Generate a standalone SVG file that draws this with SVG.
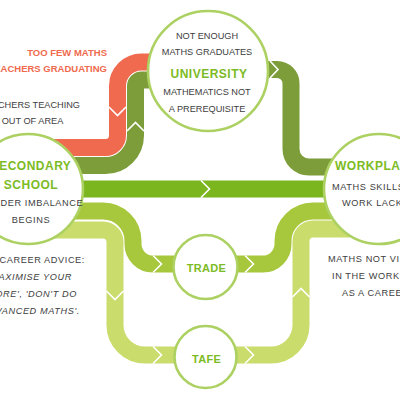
<svg xmlns="http://www.w3.org/2000/svg" width="400" height="400" viewBox="0 0 400 400">
<style>
.band{fill:none;stroke-width:17;stroke-linecap:butt}
.red{stroke:#ef6a4e}
.olive{stroke:#7c9d3a}
.bright{stroke:#7bb61f}
.mid{stroke:#a7c83d}
.light{stroke:#c9dc6c}
.chev{fill:none;stroke:#fff;stroke-width:1.6;stroke-linejoin:miter}
.node{fill:#fff;stroke:#acd162;stroke-width:2.6}
text{font-family:"Liberation Sans",Arial,sans-serif;font-size:9.2px;fill:#404040}
.h{font-weight:bold;fill:#7cbb24;font-size:12px;letter-spacing:0.5px}
.hs{font-weight:bold;fill:#7cbb24;font-size:11px;letter-spacing:0.3px}
.r{font-weight:bold;fill:#ef6a4e;font-size:9.5px}
.i{font-style:italic}
.w{letter-spacing:0.6px}
</style>
<rect width="400" height="400" fill="#fff"/>
<g id="connectors">
<path class="band bright" d="M40 189 H360"/>
<path class="band red" d="M40 147.5 H105.5 A12 12 0 0 0 117.5 135.5 V86 A24 24 0 0 1 141.5 62 H175"/>
<path class="band olive" d="M40 165.5 H105.5 A30 30 0 0 0 135.5 135.5 V86 A6 6 0 0 1 141.5 80 H175"/>
<path class="band olive" d="M245 69.5 H277 A14 14 0 0 1 291 83.5 V149 A18 18 0 0 0 309 167 H350"/>
<path class="band mid" d="M40 211 H103 A30 30 0 0 1 133 241 V244 A20 20 0 0 0 153 264 H190"/>
<path class="band mid" d="M220 264 H263 A20 20 0 0 0 283 244 V241 A30 30 0 0 1 313 211 H350"/>
<path class="band light" d="M40 230 H103 A12 12 0 0 1 115 242 V325 A30 30 0 0 0 145 355 H190"/>
<path class="band light" d="M220 355 H271 A30 30 0 0 0 301 325 V241 A12 12 0 0 1 313 229 H350"/>
<polyline class="chev" points="109,107 117.5,115.5 126,107"/>
<polyline class="chev" points="127,131 135.5,122.5 144,131"/>
<polyline class="chev" points="270,61 278,69.5 270,78"/>
<polyline class="chev" points="201,180.5 209.5,189 201,197.5"/>
<polyline class="chev" points="153,255.5 161.5,264 153,272.5"/>
<polyline class="chev" points="245,255.5 253.5,264 245,272.5"/>
<polyline class="chev" points="106.5,291 115,299.5 123.5,291"/>
<polyline class="chev" points="153,346.5 161.5,355 153,363.5"/>
<polyline class="chev" points="245,346.5 253.5,355 245,363.5"/>
<polyline class="chev" points="292.5,297 301,288.5 309.5,297"/>
</g>
<g id="university">
<circle class="node" cx="208" cy="71" r="60"/>
<text x="207" y="38.5" text-anchor="middle">NOT ENOUGH</text>
<text x="207" y="55" text-anchor="middle">MATHS GRADUATES</text>
<text class="h" x="209" y="77.5" text-anchor="middle">UNIVERSITY</text>
<text x="207" y="94.5" text-anchor="middle">MATHEMATICS NOT</text>
<text x="207" y="112" text-anchor="middle">A PREREQUISITE</text>
</g>
<g id="secondary-school">
<circle class="node" cx="28" cy="189" r="55"/>
<text class="h" x="31" y="170" text-anchor="middle">SECONDARY</text>
<text class="h" x="31" y="188.5" text-anchor="middle">SCHOOL</text>
<text class="w" x="31" y="206" text-anchor="middle">GENDER IMBALANCE</text>
<text class="w" x="31" y="223" text-anchor="middle">BEGINS</text>
</g>
<g id="workplace">
<circle class="node" cx="379" cy="189" r="55"/>
<text class="h" x="335" y="170">WORKPLACE</text>
<text class="w" x="332" y="189.5">MATHS SKILLS</text>
<text class="w" x="342" y="206">WORK LACKING</text>
</g>
<g id="trade">
<circle class="node" cx="205.5" cy="267" r="32"/>
<text class="hs" x="206.5" y="272" text-anchor="middle">TRADE</text>
</g>
<g id="tafe">
<circle class="node" cx="205.5" cy="357" r="31"/>
<text class="hs" x="206.5" y="363" text-anchor="middle">TAFE</text>
</g>
<g id="annotations">
<text class="r" x="107" y="55.5" text-anchor="end">TOO FEW MATHS</text>
<text class="r" x="107" y="72" text-anchor="end">TEACHERS GRADUATING</text>
<text x="80" y="107.5" text-anchor="end">TEACHERS TEACHING</text>
<text x="32.5" y="124" text-anchor="middle">OUT OF AREA</text>
<text class="w" x="85" y="263" text-anchor="end">POOR CAREER ADVICE:</text>
<text class="i w" x="72" y="279.5" text-anchor="end">'MAXIMISE YOUR</text>
<text class="i w" x="77" y="297" text-anchor="end">SCORE', 'DON'T DO</text>
<text class="i w" x="80" y="314" text-anchor="end">ADVANCED MATHS'.</text>
<text class="w" x="328" y="262">MATHS NOT VISIBLE</text>
<text class="w" x="332" y="278.5">IN THE WORKPLACE</text>
<text class="w" x="342" y="296">AS A CAREER</text>
</g>
</svg>
